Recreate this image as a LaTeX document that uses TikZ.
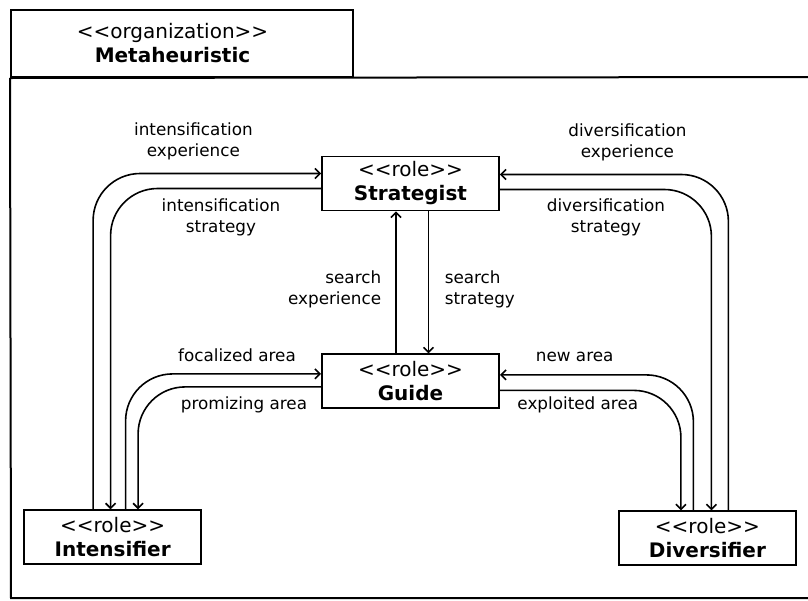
\documentclass[tikz,border=0pt]{standalone}
\usepackage{fontspec}
\setmainfont{DejaVu Sans}
\usetikzlibrary{positioning, arrows.meta}
\newcommand{\stereo}[1]{<{}<#1>{}>}

\begin{document}
\begin{tikzpicture}[x=1pt,y=-1pt,->,>={Straight Barb[length=5pt,width=10pt]},line width=1.6pt,
                    role/.style={draw,-,line width=1.9pt,minimum width=177pt,
                                 minimum height=54pt,inner sep=0pt,align=center,
                                 font=\fontsize{20}{24}\selectfont},
                    flow/.style={rounded corners=47pt},
                    lbl/.style={inner sep=0pt,align=center,
                                font=\fontsize{16.8}{21}\selectfont}]
                \useasboundingbox (0,0) rectangle (808,600);

                % organization frame
                \node[draw,-,line width=2pt,minimum width=342pt,minimum height=67pt,
                      inner sep=0pt] (org) at (182,43.5) {};
                \node[lbl,font=\fontsize{20}{24}\selectfont] (orgname)
                      at ([xshift=-9.5pt]org.center) {\stereo{organization}\\\textbf{Metaheuristic}};
                \draw[-,line width=2pt] (org.south west) -- (11,598) -- (818,598);
                \draw[-,line width=2pt] (org.south west) -- (818,77);

                % roles
                \node[role] (strat) at (410.5,183.5) {\stereo{role}\\\textbf{Strategist}};
                \node[role] (guide) [below=142pt of strat] {\stereo{role}\\\textbf{Guide}};
                \node[role] (intens) [below left=100pt and 119pt of guide] {\stereo{role}\\\textbf{Intensifier}};
                \node[role] (divers) [below right=101pt and 118pt of guide] {\stereo{role}\\\textbf{Diversifier}};

                % strategist <-> guide
                \draw ([xshift=-14.5pt]guide.north) -- ([xshift=-14.5pt]strat.south);
                \draw ([xshift=18pt]strat.south) -- ([xshift=18pt]guide.north);

                % intensifier
                \draw[flow] ([xshift=-19.5pt]intens.north) |- ([yshift=10pt]strat.west);
                \draw[flow] ([yshift=-5pt]strat.west) -| ([xshift=-2pt]intens.north);
                \draw[flow] ([xshift=13pt]intens.north) |- ([yshift=7.5pt]guide.west);
                \draw[flow] ([yshift=-5.5pt]guide.west) -| ([xshift=25.5pt]intens.north);

                % diversifier
                \draw[flow] ([xshift=21pt]divers.north) |- ([yshift=9pt]strat.east);
                \draw[flow] ([yshift=-6pt]strat.east) -| ([xshift=4pt]divers.north);
                \draw[flow] ([xshift=-14pt]divers.north) |- ([yshift=6.5pt]guide.east);
                \draw[flow] ([yshift=-9pt]guide.east) -| ([xshift=-26.5pt]divers.north);

                % labels
                \node[lbl] (intexp) at (193.4,141.2) {intensification\\experience};
                \node[lbl] (intstr) at (221,217.5) {intensification\\strategy};
                \node[lbl] (divexp) at (627.5,142.5) {diversification\\experience};
                \node[lbl] (divstr) at (606,217) {diversification\\strategy};
                \node[lbl,anchor=east,align=right] (srchexp) at (382,289) {search\\experience};
                \node[lbl,anchor=west,align=left] (srchstr) at (444,289) {search\\strategy};
                \node[lbl] (focal) at (237,355.7) {focalized area};
                \node[lbl] (promo) at (244,405) {promizing area};
                \node[lbl] (newarea) at (574.7,356.7) {new area};
                \node[lbl] (exploit) at (577.8,405) {exploited area};
\end{tikzpicture}
\end{document}
